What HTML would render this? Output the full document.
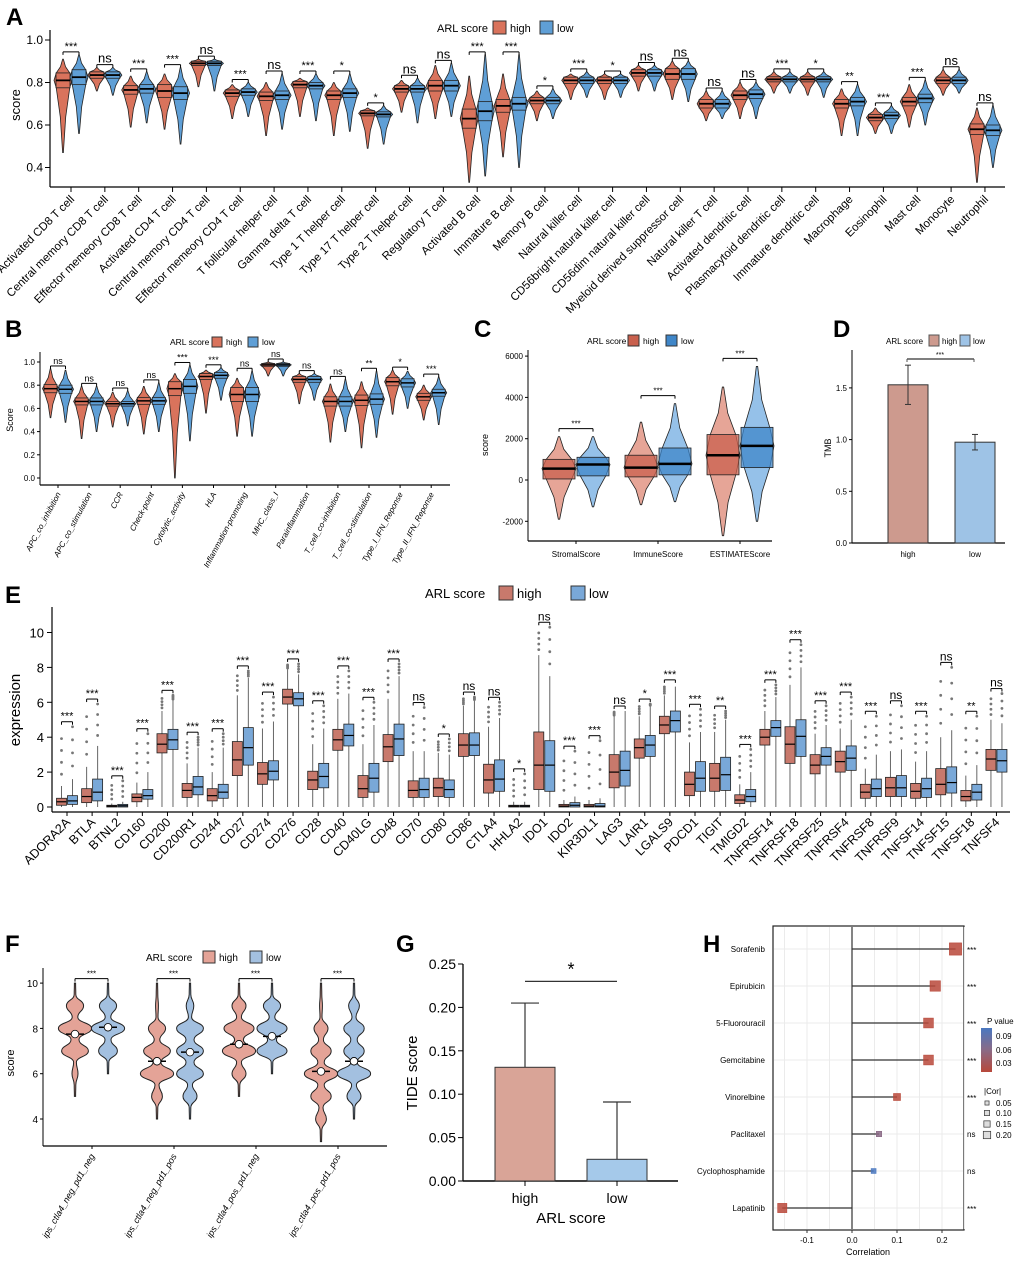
<!DOCTYPE html>
<html><head><meta charset="utf-8"><style>
html,body{margin:0;padding:0;background:#fff}
svg{display:block;font-family:"Liberation Sans",Arial,sans-serif}
</style></head><body>
<svg id="fig" width="1020" height="1263" viewBox="0 0 1020 1263" xmlns="http://www.w3.org/2000/svg">
<g font-weight="bold" font-size="24" fill="#000">
<text x="6" y="25">A</text>
<text x="5" y="337">B</text>
<text x="474" y="337">C</text>
<text x="833" y="337">D</text>
<text x="5" y="603">E</text>
<text x="5" y="952">F</text>
<text x="396" y="952">G</text>
<text x="703" y="952">H</text>
</g>
</svg>
<script>
// ---------- Panel A data ----------
const aCats=["Activated CD8 T cell","Central memory CD8 T cell","Effector memeory CD8 T cell","Activated CD4 T cell","Central memory CD4 T cell","Effector memeory CD4 T cell","T follicular helper cell","Gamma delta T cell","Type 1 T helper cell","Type 17 T helper cell","Type 2 T helper cell","Regulatory T cell","Activated B cell","Immature B cell","Memory B cell","Natural killer cell","CD56bright natural killer cell","CD56dim natural killer cell","Myeloid derived suppressor cell","Natural killer T cell","Activated dendritic cell","Plasmacytoid dendritic cell","Immature dendritic cell","Macrophage","Eosinophil","Mast cell","Monocyte","Neutrophil"];
const aMedHigh=[0.81,0.835,0.765,0.76,0.89,0.75,0.735,0.79,0.74,0.655,0.77,0.785,0.63,0.69,0.715,0.81,0.81,0.845,0.84,0.70,0.74,0.815,0.815,0.70,0.635,0.71,0.81,0.58];
const aMedLow=[0.825,0.835,0.77,0.75,0.89,0.755,0.74,0.785,0.75,0.65,0.77,0.785,0.665,0.70,0.715,0.81,0.81,0.845,0.84,0.70,0.745,0.815,0.815,0.71,0.645,0.725,0.81,0.575];
const aIqr=[0.035,0.015,0.02,0.03,0.01,0.015,0.02,0.015,0.02,0.012,0.015,0.025,0.045,0.03,0.015,0.015,0.015,0.015,0.025,0.02,0.02,0.012,0.012,0.02,0.015,0.02,0.015,0.025];
const aMinHigh=[0.47,0.76,0.59,0.58,0.78,0.63,0.55,0.64,0.55,0.49,0.66,0.63,0.33,0.45,0.62,0.72,0.72,0.76,0.72,0.62,0.63,0.75,0.74,0.55,0.56,0.59,0.74,0.33];
const aMinLow=[0.56,0.74,0.61,0.51,0.76,0.64,0.58,0.62,0.57,0.51,0.61,0.64,0.36,0.40,0.63,0.73,0.73,0.76,0.71,0.63,0.63,0.75,0.73,0.55,0.56,0.60,0.75,0.40];
const aMaxHigh=[0.91,0.87,0.83,0.84,0.91,0.79,0.80,0.82,0.80,0.68,0.81,0.88,0.83,0.84,0.76,0.84,0.84,0.88,0.90,0.76,0.80,0.85,0.85,0.77,0.68,0.79,0.86,0.68];
const aMaxLow=[0.93,0.87,0.85,0.87,0.91,0.80,0.84,0.84,0.84,0.69,0.82,0.89,0.93,0.93,0.77,0.85,0.84,0.88,0.90,0.76,0.80,0.85,0.85,0.79,0.69,0.81,0.86,0.69];
const aSig=["***","ns","***","***","ns","***","ns","***","*","*","ns","ns","***","***","*","***","*","ns","ns","ns","ns","***","*","**","***","***","ns","ns"];
const aTicks=[0.4,0.6,0.8,1.0];
// ---------- Panel B data ----------
const bCats=["APC_co_inhibition","APC_co_stimulation","CCR","Check-point","Cytolytic_activity","HLA","Inflammation-promoting","MHC_class_I","Parainflammation","T_cell_co-inhibition","T_cell_co-stimulation","Type_I_IFN_Reponse","Type_II_IFN_Reponse"];
const bMedHigh=[0.77,0.66,0.64,0.665,0.77,0.875,0.72,0.975,0.85,0.66,0.67,0.83,0.70];
const bMedLow=[0.765,0.66,0.64,0.665,0.79,0.885,0.72,0.975,0.85,0.66,0.68,0.82,0.735];
const bIqr=[0.035,0.03,0.02,0.03,0.06,0.025,0.06,0.012,0.025,0.04,0.045,0.035,0.03];
const bMinHigh=[0.52,0.34,0.44,0.38,0.0,0.56,0.36,0.88,0.64,0.31,0.26,0.55,0.50];
const bMinLow=[0.48,0.40,0.45,0.40,0.32,0.67,0.36,0.88,0.67,0.40,0.35,0.60,0.46];
const bMaxHigh=[0.94,0.79,0.74,0.79,0.90,0.93,0.86,1.0,0.90,0.81,0.83,0.93,0.80];
const bMaxLow=[0.93,0.79,0.75,0.82,0.97,0.95,0.92,1.0,0.90,0.85,0.92,0.92,0.87];
const bSig=["ns","ns","ns","ns","***","***","ns","ns","ns","ns","**","*","***"];
const bTicks=[0.0,0.2,0.4,0.6,0.8,1.0];
// ---------- Panel C data ----------
const cCats=["StromalScore","ImmuneScore","ESTIMATEScore"];
const cMedHigh=[550,600,1200]; const cMedLow=[750,780,1650];
const cQ1High=[50,150,250]; const cQ1Low=[200,250,600];
const cQ3High=[1000,1200,2200]; const cQ3Low=[1100,1550,2550];
const cMinHigh=[-1900,-1200,-2700]; const cMinLow=[-1300,-1050,-2000];
const cMaxHigh=[2100,2800,4500]; const cMaxLow=[2100,3700,5500];
const cSig=["***","***","***"];
const cTicks=[-2000,0,2000,4000,6000];
// ---------- Panel D data ----------
const dCats=["high","low"]; const dVals=[1.53,0.975]; const dErr=[0.19,0.075];
const dTicks=[0.0,0.5,1.0,1.5];
// ---------- Panel E data ----------
const eCats=["ADORA2A","BTLA","BTNL2","CD160","CD200","CD200R1","CD244","CD27","CD274","CD276","CD28","CD40","CD40LG","CD48","CD70","CD80","CD86","CTLA4","HHLA2","IDO1","IDO2","KIR3DL1","LAG3","LAIR1","LGALS9","PDCD1","TIGIT","TMIGD2","TNFRSF14","TNFRSF18","TNFRSF25","TNFRSF4","TNFRSF8","TNFRSF9","TNFSF14","TNFSF15","TNFSF18","TNFSF4"];
const eMedHigh=[0.3,0.6,0.05,0.55,3.6,0.95,0.65,2.7,1.9,6.3,1.55,3.85,1.05,3.45,0.95,1.1,3.55,1.55,0.05,2.4,0.05,0.05,2.0,3.4,4.7,1.3,1.65,0.4,4.0,3.6,2.4,2.6,0.85,1.1,0.9,1.3,0.6,2.75];
const eMedLow=[0.35,0.85,0.07,0.65,3.85,1.15,0.85,3.4,2.05,6.2,1.75,4.1,1.65,3.9,1.0,1.0,3.55,1.6,0.05,2.4,0.1,0.05,2.1,3.55,4.95,1.65,1.85,0.6,4.55,4.05,2.9,2.8,1.05,1.1,1.05,1.4,0.85,2.65];
const eQ1High=[0.1,0.25,0,0.3,3.1,0.55,0.35,1.8,1.3,5.9,1.0,3.25,0.55,2.6,0.55,0.6,2.9,0.8,0,1.0,0,0,1.1,2.8,4.2,0.65,0.9,0.2,3.55,2.5,1.9,2.0,0.5,0.6,0.5,0.7,0.35,2.1];
const eQ1Low=[0.15,0.35,0,0.45,3.3,0.7,0.5,2.4,1.55,5.8,1.1,3.5,0.85,2.95,0.55,0.55,2.95,0.9,0,0.9,0,0,1.2,2.9,4.3,0.9,0.95,0.3,4.05,2.9,2.4,2.1,0.6,0.6,0.55,0.8,0.4,2.0];
const eQ3High=[0.5,1.05,0.1,0.75,4.2,1.35,1.05,3.75,2.55,6.75,2.05,4.45,1.8,4.15,1.5,1.65,4.2,2.45,0.1,4.3,0.15,0.15,3.0,3.9,5.2,2.0,2.5,0.7,4.45,4.6,3.0,3.2,1.3,1.7,1.35,2.2,0.95,3.3];
const eQ3Low=[0.65,1.6,0.15,1.0,4.45,1.75,1.3,4.55,2.65,6.55,2.5,4.75,2.5,4.75,1.65,1.55,4.25,2.7,0.1,3.8,0.25,0.2,3.2,4.1,5.5,2.6,2.85,1.0,4.95,5.0,3.4,3.5,1.6,1.8,1.65,2.3,1.3,3.3];
const eMaxHigh=[1.2,2.3,0.2,1.4,5.5,2.5,2.0,6.4,4.5,7.9,3.6,6.2,3.6,6.2,3.2,3.1,5.8,4.6,0.3,8.7,0.4,0.4,5.2,5.2,6.4,3.7,4.3,1.3,5.5,7.0,4.2,4.5,2.2,3.2,2.6,4.0,1.8,5.0];
const eMaxLow=[1.6,3.5,0.3,2.0,6.1,3.4,3.4,7.4,4.9,7.6,4.5,6.5,4.7,7.5,3.2,3.0,6.1,5.1,0.3,7.5,0.6,0.5,5.5,5.8,6.9,4.3,5.0,2.0,6.3,8.0,4.7,5.0,3.0,3.3,3.2,4.4,2.4,4.8];
const eOutMax=[4.6,5.9,1.5,4.2,6.4,4.0,4.2,7.8,6.3,8.2,5.8,7.8,6.0,8.2,5.7,3.9,6.3,6.0,1.9,10.3,3.2,3.8,5.5,5.9,7.0,5.6,5.5,3.3,7.0,9.3,5.8,6.3,5.2,5.8,5.2,8.0,5.2,6.5];
const eSig=["***","***","***","***","***","***","***","***","***","***","***","***","***","***","ns","*","ns","ns","*","ns","***","***","ns","*","***","***","**","***","***","***","***","***","***","ns","***","ns","**","ns"];
const eTicks=[0,2,4,6,8,10];
// ---------- Panel F data ----------
const fCats=["ips_ctla4_neg_pd1_neg","ips_ctla4_neg_pd1_pos","ips_ctla4_pos_pd1_neg","ips_ctla4_pos_pd1_pos"];
const fLoHigh=[5,4,5,3]; const fLoLow=[6,4,6,4];
const fDensHigh=[[0,0.15,0.8,1,0.5,0],[0,0.3,1,0.8,0.5,0.05,0],[0,0.4,1,0.9,0.4,0],[0,0.3,0.6,1,0.6,0.4,0.05,0]];
const fDensLow=[[0,0.55,1,0.5,0],[0,0.4,0.8,0.8,0.8,0.2,0],[0,0.9,0.9,0.5,0],[0,0.4,1,0.6,0.6,0.3,0]];
const fMeanHigh=[7.75,6.55,7.3,6.1]; const fMeanLow=[8.05,6.95,7.65,6.55];
const fSig=["***","***","***","***"];
const fTicks=[4,6,8,10];
// ---------- Panel G data ----------
const gCats=["high","low"]; const gVals=[0.131,0.025]; const gErrTop=[0.205,0.091];
const gTicks=[0.00,0.05,0.10,0.15,0.20,0.25];
// ---------- Panel H data ----------
const hDrugs=["Sorafenib","Epirubicin","5-Fluorouracil","Gemcitabine","Vinorelbine","Paclitaxel","Cyclophosphamide","Lapatinib"];
const hCor=[0.23,0.185,0.17,0.17,0.10,0.06,0.048,-0.155];
const hP=[0.0001,0.0001,0.0001,0.0001,0.0005,0.06,0.1,0.0001];
const hSig=["***","***","***","***","***","ns","ns","***"];
const hTicks=[-0.1,0.0,0.1,0.2];

const NS='http://www.w3.org/2000/svg';
const svg=document.getElementById('fig');
function mk(tag,attrs,name,parent){
  const el=document.createElementNS(NS,tag);
  for(const k in attrs)el.setAttribute(k,attrs[k]);
  
  
  (parent||svg).appendChild(el);return el;
}
function txt(x,y,s,attrs,name,parent){const t=mk('text',Object.assign({x:x,y:y},attrs||{}),name,parent);t.textContent=s;return t;}
function line(x1,y1,x2,y2,st,w,name,parent){return mk('line',{x1:x1,y1:y1,x2:x2,y2:y2,stroke:st||'#000','stroke-width':w||1},name,parent);}
function violin(cx,y,mn,q1,md,q3,mx,hw,fill,name,op){
  const pts=[[mn,0.04],[q1-(q1-mn)*0.45,0.3],[q1,0.75],[md,1],[q3,0.75],[q3+(mx-q3)*0.45,0.28],[mx,0.04]];
  let r=pts.map(p=>(cx+p[1]*hw)+','+y(p[0]));let l=pts.slice().reverse().map(p=>(cx-p[1]*hw)+','+y(p[0]));
  return mk('polygon',{points:r.concat(l).join(' '),fill:fill,'fill-opacity':op||1,stroke:'#222','stroke-width':0.8},name);
}
function box(cx,y,q1,md,q3,hw,fill,name,mw,op){
  mk('rect',{x:cx-hw,y:y(q3),width:2*hw,height:Math.max(0.8,y(q1)-y(q3)),fill:fill,'fill-opacity':op===undefined?1:op,stroke:'#222','stroke-width':0.8},name);
  line(cx-hw,y(md),cx+hw,y(md),'#000',mw||2,name+'-median');
}
function bracket(x1,x2,yy,s,fs,name){
  line(x1,yy,x2,yy,'#000',1,name);line(x1,yy,x1,yy+3,'#000',1,name+'-l');line(x2,yy,x2,yy+3,'#000',1,name+'-r');
  txt((x1+x2)/2,yy-2,s,{'font-size':fs,'text-anchor':'middle'},name+'-label');
}
function legend(x,y,fs,bw,c1,c2,gap1,gap2,name){
  txt(x,y,'ARL score',{'font-size':fs},name+'-title');
  mk('rect',{x:x+gap1,y:y-bw+2,width:bw,height:bw,fill:c1,stroke:'#333'},name+'-high-key');
  txt(x+gap1+bw+4,y,'high',{'font-size':fs},name+'-high-label');
  mk('rect',{x:x+gap2,y:y-bw+2,width:bw,height:bw,fill:c2,stroke:'#333'},name+'-low-key');
  txt(x+gap2+bw+4,y,'low',{'font-size':fs},name+'-low-label');
}
const RED='#d9735c',BLUE='#5f9fd6';

// ===== Panel A =====
const yA=v=>40+(1-v)/0.2*42.5; const xA=i=>71+i*33.85;
legend(437,32,11,13,RED,BLUE,56,103,'legend-a');
line(50,30,50,187,'#000',1.2,'a-y-axis');line(50,187,1005,187,'#000',1.2,'a-x-axis');
aTicks.forEach(t=>{line(45,yA(t),50,yA(t),'#000',1,'a-y-tick');txt(43,yA(t)+4,t.toFixed(1),{'font-size':12,'text-anchor':'end'},'a-y-tick-label');});
txt(0,0,'score',{'font-size':13,transform:'translate(20,105) rotate(-90)','text-anchor':'middle'},'a-y-axis-title');
aCats.forEach((c,i)=>{const x=xA(i);
  violin(x-8,yA,aMinHigh[i],aMedHigh[i]-aIqr[i],aMedHigh[i],aMedHigh[i]+aIqr[i],aMaxHigh[i],9,RED,'a-violin-high');
  violin(x+8,yA,aMinLow[i],aMedLow[i]-aIqr[i],aMedLow[i],aMedLow[i]+aIqr[i],aMaxLow[i],9,BLUE,'a-violin-low');
  box(x-8,yA,aMedHigh[i]-aIqr[i],aMedHigh[i],aMedHigh[i]+aIqr[i],7,RED,'a-box-high',1.8);
  box(x+8,yA,aMedLow[i]-aIqr[i],aMedLow[i],aMedLow[i]+aIqr[i],7,BLUE,'a-box-low',1.8);
  const by=yA(Math.max(aMaxHigh[i],aMaxLow[i]))-3;
  bracket(x-8,x+8,by,aSig[i],aSig[i]==='ns'?13:11,'a-sig');
  line(x,187,x,192,'#000',1,'a-x-tick');
  txt(0,0,c,{'font-size':11.5,'text-anchor':'end',transform:`translate(${x+4},200) rotate(-45)`},'a-x-label');
});

// ===== Panel B =====
const yB=v=>478-v*116; const xB=i=>58+i*31.1;
legend(170,345,8.5,10,RED,BLUE,42,78,'legend-b');
line(40,352,40,485,'#000',1,'b-y-axis');line(40,485,450,485,'#000',1.3,'b-x-axis');
bTicks.forEach(t=>{line(37,yB(t),40,yB(t),'#000',1,'b-y-tick');txt(35,yB(t)+3,t.toFixed(1),{'font-size':8,'text-anchor':'end'},'b-y-tick-label');});
txt(0,0,'Score',{'font-size':9,transform:'translate(13,420) rotate(-90)','text-anchor':'middle'},'b-y-axis-title');
bCats.forEach((c,i)=>{const x=xB(i);
  violin(x-7.5,yB,bMinHigh[i],bMedHigh[i]-bIqr[i],bMedHigh[i],bMedHigh[i]+bIqr[i],bMaxHigh[i],8,RED,'b-violin-high');
  violin(x+7.5,yB,bMinLow[i],bMedLow[i]-bIqr[i],bMedLow[i],bMedLow[i]+bIqr[i],bMaxLow[i],8,BLUE,'b-violin-low');
  box(x-7.5,yB,bMedHigh[i]-bIqr[i],bMedHigh[i],bMedHigh[i]+bIqr[i],6.5,RED,'b-box-high',1.5);
  box(x+7.5,yB,bMedLow[i]-bIqr[i],bMedLow[i],bMedLow[i]+bIqr[i],6.5,BLUE,'b-box-low',1.5);
  bracket(x-7.5,x+7.5,yB(Math.max(bMaxHigh[i],bMaxLow[i]))-3,bSig[i],9,'b-sig');
  line(x,485,x,488,'#000',1,'b-x-tick');
  txt(0,0,c,{'font-size':8,'font-style':'italic','text-anchor':'end',transform:`translate(${x+3},494) rotate(-62)`},'b-x-label');
});

// ===== Panel C =====
const yC=v=>480-v/2000*41.3; const xC=i=>576+i*82;
legend(587,344,8.5,11,'#c9604d','#3f86c8',41,79,'legend-c');
line(528,350,528,541,'#000',1,'c-y-axis');line(528,541,772,541,'#000',1.3,'c-x-axis');
cTicks.forEach(t=>{line(525,yC(t),528,yC(t),'#000',1,'c-y-tick');txt(523,yC(t)+3,String(t),{'font-size':8,'text-anchor':'end'},'c-y-tick-label');});
txt(0,0,'score',{'font-size':9,transform:'translate(488,445) rotate(-90)','text-anchor':'middle'},'c-y-axis-title');
cCats.forEach((c,i)=>{const x=xC(i);
  violin(x-17,yC,cMinHigh[i],cQ1High[i],cMedHigh[i],cQ3High[i],cMaxHigh[i],17,'#e08f7d','c-violin-high',0.8);
  violin(x+17,yC,cMinLow[i],cQ1Low[i],cMedLow[i],cQ3Low[i],cMaxLow[i],17,'#7ab2e3','c-violin-low',0.8);
  box(x-17,yC,cQ1High[i],cMedHigh[i],cQ3High[i],16,'#c9604d','c-box-high',2.5,0.75);
  box(x+17,yC,cQ1Low[i],cMedLow[i],cQ3Low[i],16,'#3f86c8','c-box-low',2.5,0.75);
  bracket(x-17,x+17,yC(Math.max(cMaxHigh[i],cMaxLow[i]))-8,cSig[i],8,'c-sig');
  line(x,541,x,544,'#000',1,'c-x-tick');
  txt(x,557,c,{'font-size':8,'text-anchor':'middle'},'c-x-label');
});

// ===== Panel D =====
const yD=v=>543-v/0.5*51.7; const xD=i=>908+i*67;
txt(886,344,'ARL score',{'font-size':8},'legend-d-title');
mk('rect',{x:929,y:335,width:10,height:11,fill:'#cd9a8e',stroke:'#555'},'legend-d-high-key');txt(942,344,'high',{'font-size':8},'legend-d-high-label');
mk('rect',{x:960,y:335,width:10,height:11,fill:'#9ec3e6',stroke:'#555'},'legend-d-low-key');txt(973,344,'low',{'font-size':8},'legend-d-low-label');
line(852,350,852,543,'#000',1,'d-y-axis');line(852,543,1005,543,'#000',1.3,'d-x-axis');
dTicks.forEach(t=>{line(849,yD(t),852,yD(t),'#000',1,'d-y-tick');txt(847,yD(t)+3,t.toFixed(1),{'font-size':8,'text-anchor':'end'},'d-y-tick-label');});
txt(0,0,'TMB',{'font-size':9,transform:'translate(831,448) rotate(-90)','text-anchor':'middle'},'d-y-axis-title');
dCats.forEach((c,i)=>{const x=xD(i);
  mk('rect',{x:x-20,y:yD(dVals[i]),width:40,height:543-yD(dVals[i]),fill:i?'#9ec3e6':'#cd9a8e',stroke:'#333','stroke-width':1},'d-bar-'+c);
  line(x,yD(dVals[i]-dErr[i]),x,yD(dVals[i]+dErr[i]),'#333',1,'d-error-bar');
  line(x-3,yD(dVals[i]-dErr[i]),x+3,yD(dVals[i]-dErr[i]),'#333',1,'d-error-cap');
  line(x-3,yD(dVals[i]+dErr[i]),x+3,yD(dVals[i]+dErr[i]),'#333',1,'d-error-cap');
  txt(x,557,c,{'font-size':8,'text-anchor':'middle'},'d-x-label');
});
line(907,359,974,359,'#555',1.5,'d-sig-line');line(907,359,907,362,'#555',1,'d-sig-l');line(974,359,974,362,'#555',1,'d-sig-r');
txt(940,357,'***',{'font-size':7,'text-anchor':'middle'},'d-sig-label');

// ===== Panel E =====
const yE=v=>807-v*17.45; const xE=i=>67+i*25.12;
legend(425,598,13,14,'#c8796c','#79a8d8',74,146,'legend-e');
line(52,607,52,812,'#000',1.2,'e-y-axis');line(52,812,1010,812,'#000',1.2,'e-x-axis');
eTicks.forEach(t=>{line(47,yE(t),52,yE(t),'#000',1,'e-y-tick');txt(44,yE(t)+5,String(t),{'font-size':13,'text-anchor':'end'},'e-y-tick-label');});
txt(0,0,'expression',{'font-size':15,transform:'translate(20,710) rotate(-90)','text-anchor':'middle'},'e-y-axis-title');
eCats.forEach((c,i)=>{const x=xE(i);
  [[x-5.5,eQ1High,eMedHigh,eQ3High,eMaxHigh,'#c8796c','high'],[x+5.5,eQ1Low,eMedLow,eQ3Low,eMaxLow,'#79a8d8','low']].forEach(d=>{
    const [cx,q1,md,q3,mx,col,g]=d;
    line(cx,yE(0),cx,yE(mx[i]),'#666',1,'e-whisker-'+g);
    const top=g==='high'?Math.min(eOutMax[i],mx[i]+(eOutMax[i]-mx[i])*0.8):eOutMax[i];
    for(let k=1;k<=4;k++){const v=mx[i]+(top-mx[i])*k/4; if(top>mx[i]+0.1) mk('circle',{cx:cx,cy:yE(v),r:1.4,fill:'#777'},'e-outlier-'+g);}
    box(cx,yE,q1[i],md[i],q3[i],5,col,'e-box-'+g,1.2);
  });
  bracket(x-5.5,x+5.5,yE(eOutMax[i])-5,eSig[i],eSig[i]==='ns'?12:11,'e-sig');
  line(x,812,x,816,'#000',1,'e-x-tick');
  txt(0,0,c,{'font-size':12.5,'text-anchor':'end',transform:`translate(${x+4},823) rotate(-45)`},'e-x-label');
});

// ===== Panel F =====
const yF=v=>1119-(v-4)*22.65; const xF=i=>92+i*82;
legend(146,961,10,12,'#e4a397','#a3c0e0',57,104,'legend-f');
line(43,968,43,1146,'#000',1,'f-y-axis');line(43,1146,387,1146,'#000',1.2,'f-x-axis');
fTicks.forEach(t=>{line(40,yF(t),43,yF(t),'#000',1,'f-y-tick');txt(38,yF(t)+4,String(t),{'font-size':10,'text-anchor':'end'},'f-y-tick-label');});
txt(0,0,'score',{'font-size':11,transform:'translate(14,1063) rotate(-90)','text-anchor':'middle'},'f-y-axis-title');
function wavy(cx,lo,dens,hw,fill,name){
  const r=[],l=[];const n=dens.length;
  for(let k=0;k<n;k++){
    const v=lo+k; const w=dens[k]*hw+0.6;
    r.push([cx+w,yF(v)]);l.push([cx-w,yF(v)]);
    if(k<n-1){const wm=Math.min(dens[k],dens[k+1])*hw*0.25+0.8; r.push([cx+wm,yF(v+0.5)]);l.push([cx-wm,yF(v+0.5)]);}
  }
  function sm(p){let d='M'+p[0][0]+','+p[0][1];for(let k=1;k<p.length;k++){const a=p[k-1],b=p[k];const my=(a[1]+b[1])/2;d+=` C${a[0]},${my} ${b[0]},${my} ${b[0]},${b[1]}`;}return d;}
  const lr=l.slice().reverse();
  const d=sm(r)+' L'+lr[0][0]+','+lr[0][1]+sm(lr).slice(sm(lr).indexOf('C')-1)+'Z';
  mk('path',{d:d,fill:fill,stroke:'#222','stroke-width':1},name);
}
fCats.forEach((c,i)=>{const x=xF(i);
  wavy(x-17,fLoHigh[i],fDensHigh[i],16,'#e4a397','f-violin-high');
  wavy(x+16,fLoLow[i],fDensLow[i],16,'#a3c0e0','f-violin-low');
  [[x-17,fMeanHigh[i]],[x+16,fMeanLow[i]]].forEach(m=>{line(m[0]-9,yF(m[1]),m[0]+9,yF(m[1]),'#000',1.5,'f-mean-bar');mk('circle',{cx:m[0],cy:yF(m[1]),r:3.8,fill:'#fff',stroke:'#000','stroke-width':0.8},'f-mean-point');});
  bracket(x-17,x+16,yF(10.2),fSig[i],8,'f-sig');
  line(x,1146,x,1149,'#000',1,'f-x-tick');
  txt(0,0,c,{'font-size':9,'font-style':'italic','text-anchor':'end',transform:`translate(${x+3},1156) rotate(-60)`},'f-x-label');
});

// ===== Panel G =====
const yG=v=>1181-v*868; const xG=i=>525+i*92;
line(463,964,463,1181,'#000',1.3,'g-y-axis');line(463,1181,678,1181,'#000',1.5,'g-x-axis');
gTicks.forEach(t=>{line(458,yG(t),463,yG(t),'#000',1,'g-y-tick');txt(456,yG(t)+5,t.toFixed(2),{'font-size':14,'text-anchor':'end'},'g-y-tick-label');});
txt(0,0,'TIDE score',{'font-size':15,transform:'translate(417,1073) rotate(-90)','text-anchor':'middle'},'g-y-axis-title');
gCats.forEach((c,i)=>{const x=xG(i);
  line(x,yG(gVals[i]),x,yG(gErrTop[i]),'#333',1.2,'g-error-bar');line(x-14,yG(gErrTop[i]),x+14,yG(gErrTop[i]),'#333',1.2,'g-error-cap');
  mk('rect',{x:x-30,y:yG(gVals[i]),width:60,height:1181-yG(gVals[i]),fill:i?'#a5c9ea':'#d9a497',stroke:'#333','stroke-width':1},'g-bar-'+c);
  line(x,1181,x,1186,'#000',1,'g-x-tick');
  txt(x,1203,c,{'font-size':14,'text-anchor':'middle'},'g-x-label');
});
line(xG(0),yG(0.23),xG(1),yG(0.23),'#333',1.2,'g-sig-line');
txt((xG(0)+xG(1))/2,yG(0.237),'*',{'font-size':18,'text-anchor':'middle'},'g-sig-label');
txt(571,1223,'ARL score',{'font-size':15,'text-anchor':'middle'},'g-x-axis-title');

// ===== Panel H =====
const xH=v=>852+v*450; const yH=i=>949+i*37;
mk('rect',{x:773,y:926,width:191,height:304,fill:'#fff',stroke:'#222','stroke-width':1.2},'h-panel-border');
for(let v=-0.15;v<=0.251;v+=0.05){line(xH(v),927,xH(v),1229,'#ebebeb',1,'h-grid-v');}
hDrugs.forEach((d,i)=>line(774,yH(i),963,yH(i),'#ebebeb',1,'h-grid-h'));
line(xH(0),927,xH(0),1229,'#333',1.2,'h-zero-line');
const pcol=p=>p>0.08?'#4a78c0':(p>0.03?'#8a6a86':'#b8483a');
hDrugs.forEach((d,i)=>{const y=yH(i);
  line(xH(0),y,xH(hCor[i]),y,'#333',1.2,'h-stem');
  const s=3+Math.abs(hCor[i])*40;
  mk('rect',{x:xH(hCor[i])-s/2,y:y-s/2,width:s,height:s,fill:pcol(hP[i]),'fill-opacity':0.85,stroke:pcol(hP[i]),'stroke-width':0.6},'h-point-'+d.toLowerCase());
  txt(765,y+3,d,{'font-size':8,'text-anchor':'end'},'h-drug-label');
  txt(967,y+(hSig[i]==='ns'?3:4),hSig[i],{'font-size':8},'h-sig-label');
});
hTicks.forEach(t=>{line(xH(t),1230,xH(t),1233,'#333',1,'h-x-tick');txt(xH(t),1243,t===0?'0.0':String(t),{'font-size':8,'text-anchor':'middle'},'h-x-tick-label');});
txt(868,1255,'Correlation',{'font-size':9,'text-anchor':'middle'},'h-x-axis-title');
const defs=mk('defs',{},'h-defs');const lg=mk('linearGradient',{id:'pg',x1:0,y1:0,x2:0,y2:1},'h-gradient',defs);
mk('stop',{offset:'0','stop-color':'#4a78c0'},'h-stop',lg);mk('stop',{offset:'0.5','stop-color':'#8a6a86'},'h-stop',lg);mk('stop',{offset:'1','stop-color':'#b8483a'},'h-stop',lg);
txt(987,1024,'P value',{'font-size':8},'h-legend-p-title');
mk('rect',{x:981,y:1028,width:11,height:44,fill:'url(#pg)'},'h-legend-p-bar');
[['0.09',1039],['0.06',1053],['0.03',1066]].forEach(a=>txt(996,a[1],a[0],{'font-size':8},'h-legend-p-label'));
txt(984,1094,'|Cor|',{'font-size':8},'h-legend-cor-title');
[[0.05,1103],[0.10,1113],[0.15,1124],[0.20,1135]].forEach(a=>{const s=3+a[0]*22;mk('rect',{x:987-s/2,y:a[1]-s/2,width:s,height:s,fill:'#ddd',stroke:'#333','stroke-width':0.7},'h-legend-cor-key');txt(996,a[1]+3,a[0].toFixed(2),{'font-size':8},'h-legend-cor-label');});
</script>
</body></html>
